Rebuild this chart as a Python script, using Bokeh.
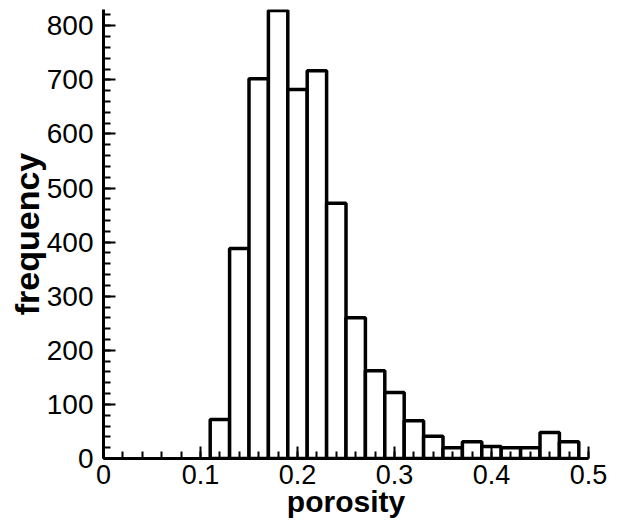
from bokeh.plotting import figure
from bokeh.models import FixedTicker, Range1d
from bokeh.embed import file_html
from bokeh.resources import INLINE

bin_centers = [0.12, 0.14, 0.16, 0.18, 0.20, 0.22, 0.24, 0.26, 0.28, 0.30,
               0.32, 0.34, 0.36, 0.38, 0.40, 0.42, 0.44, 0.46, 0.48]
frequency = [72, 388, 702, 828, 682, 717, 472, 260, 162, 122,
             70, 41, 20, 31, 22, 20, 20, 48, 31]
bin_width = 0.02
x_ticks = [0, 0.1, 0.2, 0.3, 0.4, 0.5]
x_tick_labels = ["0", "0.1", "0.2", "0.3", "0.4", "0.5"]
y_ticks = [0, 100, 200, 300, 400, 500, 600, 700, 800]
x_title = "porosity"
y_title = "frequency"

FONT = "Liberation Sans"

p = figure(width=620, height=524, output_backend="svg", toolbar_location=None,
           x_range=Range1d(0, 0.5), y_range=Range1d(0, 830),
           min_border_left=103, min_border_right=32, min_border_top=9,
           min_border_bottom=66)
p.outline_line_color = None
p.xgrid.visible = False
p.ygrid.visible = False
p.background_fill_color = "white"
p.border_fill_color = "white"

p.vbar(x=bin_centers, width=bin_width, top=frequency, bottom=0,
       fill_color="white", line_color="black", line_width=3.5)

for ax in (p.xaxis[0], p.yaxis[0]):
    ax.axis_line_width = 3
    ax.axis_line_color = "black"
    ax.major_tick_in = 12
    ax.major_tick_out = 0
    ax.minor_tick_in = 7
    ax.minor_tick_out = 0
    ax.major_tick_line_width = 2
    ax.minor_tick_line_width = 2
    ax.major_tick_line_color = "black"
    ax.minor_tick_line_color = "black"
    ax.major_label_text_font = FONT
    ax.major_label_text_color = "black"
    ax.axis_label_text_font = FONT
    ax.axis_label_text_font_style = "bold"
    ax.axis_label_text_color = "black"

xa = p.xaxis[0]
xa.ticker = FixedTicker(ticks=x_ticks, minor_ticks=[i * 0.02 for i in range(26)])
xa.major_label_overrides = {t: l for t, l in zip(x_ticks, x_tick_labels)}
xa.major_label_text_font_size = "27px"
xa.major_label_standoff = 6
xa.axis_label = x_title
xa.axis_label_text_font_size = "30px"
xa.axis_label_standoff = -2

ya = p.yaxis[0]
ya.ticker = FixedTicker(ticks=y_ticks, minor_ticks=[i * 20 for i in range(42)])
ya.major_label_text_font_size = "28px"
ya.major_label_standoff = 10
ya.axis_label = y_title
ya.axis_label_text_font_size = "34px"
ya.axis_label_standoff = -2

open("out.html", "w").write(file_html(p, INLINE))
